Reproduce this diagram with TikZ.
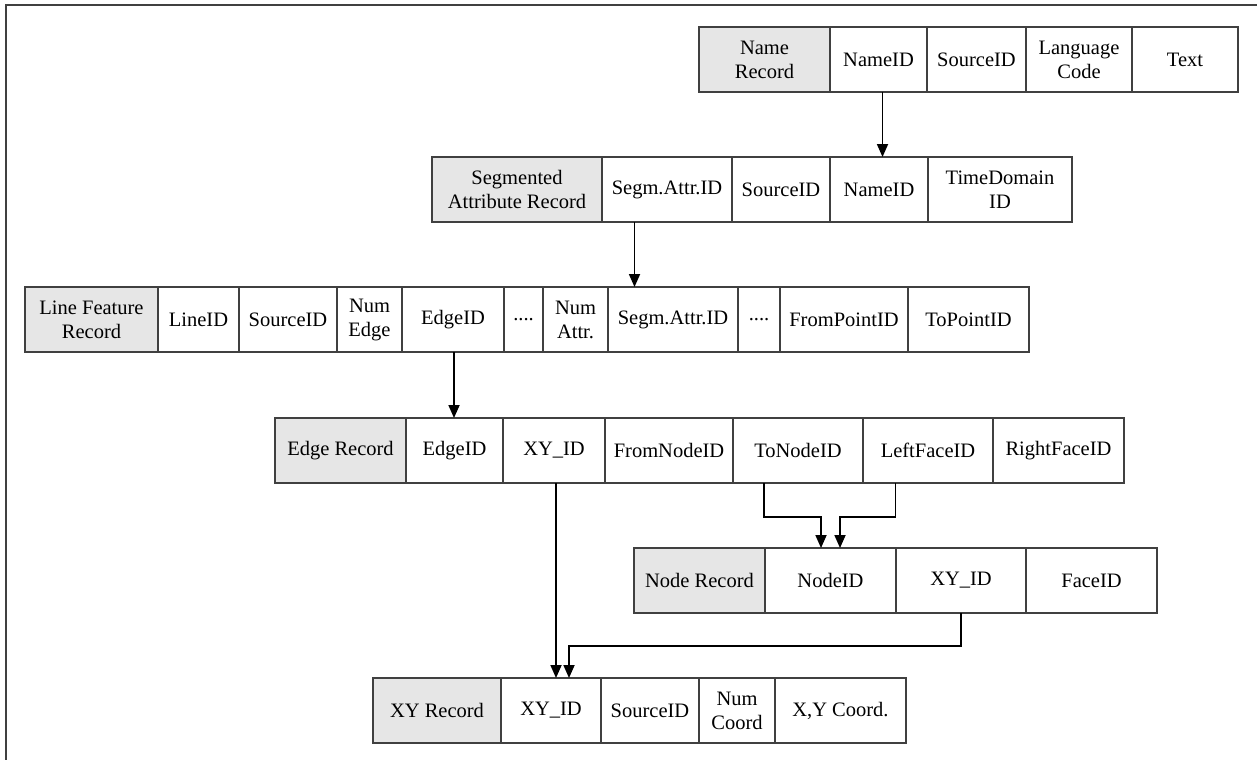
\documentclass[tikz,border=0pt]{standalone}
\usepackage{fontspec}
\setmainfont{Liberation Serif}
\usetikzlibrary{arrows.meta}
\usetikzlibrary{calc}
\usetikzlibrary{positioning}
\definecolor{headgray}{HTML}{E6E6E6}
\definecolor{linegray}{HTML}{404040}

\begin{document}
\begin{tikzpicture}[
		x=1pt, y=-1pt,
		every node/.style={font=\fontsize{20.5}{24}\selectfont},
		cell/.style={draw=linegray, line width=1.2pt, minimum height=65pt, inner sep=2pt, outer sep=0pt, align=center, anchor=north west},
		head/.style={cell, fill=headgray},
		link/.style={draw, line width=1.8pt, -{Triangle[length=13pt, width=11pt]}}
	]
	\useasboundingbox (0,0) rectangle (1257,760);
	% frame, cut at the right and bottom
	\draw[linegray, line width=1.5pt] (1257,5) -- (6,5) -- (6,760);

	% name record
	\node[head, minimum width=131pt] (n1) at (699,27) {Name\\Record};
	\node[cell, minimum width=97pt, right=0pt of n1] (n2) {NameID};
	\node[cell, minimum width=99pt, right=0pt of n2] (n3) {SourceID};
	\node[cell, minimum width=106pt, right=0pt of n3] (n4) {Language\\Code};
	\node[cell, minimum width=106pt, right=0pt of n4] (n5) {Text};

	% segmented attribute record
	\node[head, minimum width=170pt] (s1) at (432,157) {Segmented\\Attribute Record};
	\node[cell, minimum width=130pt, right=0pt of s1] (s2) {Segm.Attr.ID};
	\node[cell, minimum width=98pt, right=0pt of s2] (s3) {SourceID};
	\node[cell, minimum width=98pt, right=0pt of s3] (s4) {NameID};
	\node[cell, minimum width=144pt, right=0pt of s4] (s5) {TimeDomain\\ID};

	% line feature record
	\node[head, minimum width=133pt] (l1) at (25,287) {Line Feature\\Record};
	\node[cell, minimum width=81pt, right=0pt of l1] (l2) {LineID};
	\node[cell, minimum width=98pt, right=0pt of l2] (l3) {SourceID};
	\node[cell, minimum width=65pt, right=0pt of l3] (l4) {Num\\Edge};
	\node[cell, minimum width=102pt, right=0pt of l4] (l5) {EdgeID};
	\node[cell, minimum width=39pt, right=0pt of l5] (l6) {....};
	\node[cell, minimum width=65pt, right=0pt of l6] (l7) {Num\\Attr.};
	\node[cell, minimum width=130pt, right=0pt of l7] (l8) {Segm.Attr.ID};
	\node[cell, minimum width=42pt, right=0pt of l8] (l9) {....};
	\node[cell, minimum width=128pt, right=0pt of l9] (l10) {FromPointID};
	\node[cell, minimum width=121pt, right=0pt of l10] (l11) {ToPointID};

	% edge record
	\node[head, minimum width=131pt] (e1) at (275,418) {Edge Record};
	\node[cell, minimum width=97pt, right=0pt of e1] (e2) {EdgeID};
	\node[cell, minimum width=102pt, right=0pt of e2] (e3) {XY\_ID};
	\node[cell, minimum width=128pt, right=0pt of e3] (e4) {FromNodeID};
	\node[cell, minimum width=130pt, right=0pt of e4] (e5) {ToNodeID};
	\node[cell, minimum width=130pt, right=0pt of e5] (e6) {LeftFaceID};
	\node[cell, minimum width=131pt, right=0pt of e6] (e7) {RightFaceID};

	% node record
	\node[head, minimum width=131pt] (nd1) at (634,548) {Node Record};
	\node[cell, minimum width=131pt, right=0pt of nd1] (nd2) {NodeID};
	\node[cell, minimum width=130pt, right=0pt of nd2] (nd3) {XY\_ID};
	\node[cell, minimum width=131pt, right=0pt of nd3] (nd4) {FaceID};

	% xy record
	\node[head, minimum width=128pt] (xy1) at (373,678) {XY Record};
	\node[cell, minimum width=100pt, right=0pt of xy1] (xy2) {XY\_ID};
	\node[cell, minimum width=98pt, right=0pt of xy2] (xy3) {SourceID};
	\node[cell, minimum width=76pt, right=0pt of xy3] (xy4) {Num\\Coord};
	\node[cell, minimum width=131pt, right=0pt of xy4] (xy5) {X,Y Coord.};

	% references between the records
	\coordinate (sa) at ($(s2.south west)!0.25!(s2.south east)$);
	\coordinate (tn) at ($(e5.south west)!0.24!(e5.south east)$);
	\coordinate (lf) at ($(e6.south west)!0.25!(e6.south east)$);
	\draw[link] ([xshift=4pt]n2.south) -- ([xshift=4pt]n2.south |- s4.north);
	\draw[link] (sa) -- (sa |- l8.north);
	\draw[link] ([xshift=1pt]l5.south) -- ([xshift=1pt]l5.south |- e2.north);
	\draw[link] (tn) -- ++(0,34) -| ([xshift=-9.5pt]nd2.north);
	\draw[link] (lf) -- ++(0,34) -| ([xshift=9.5pt]nd2.north);
	\draw[link] ([xshift=2pt]e3.south) -- ([xshift=2pt]e3.south |- xy2.north);
	\draw[link] (nd3.south) -- ++(0,33) -| ([xshift=15pt]e3.south |- xy2.north);
\end{tikzpicture}
\end{document}
